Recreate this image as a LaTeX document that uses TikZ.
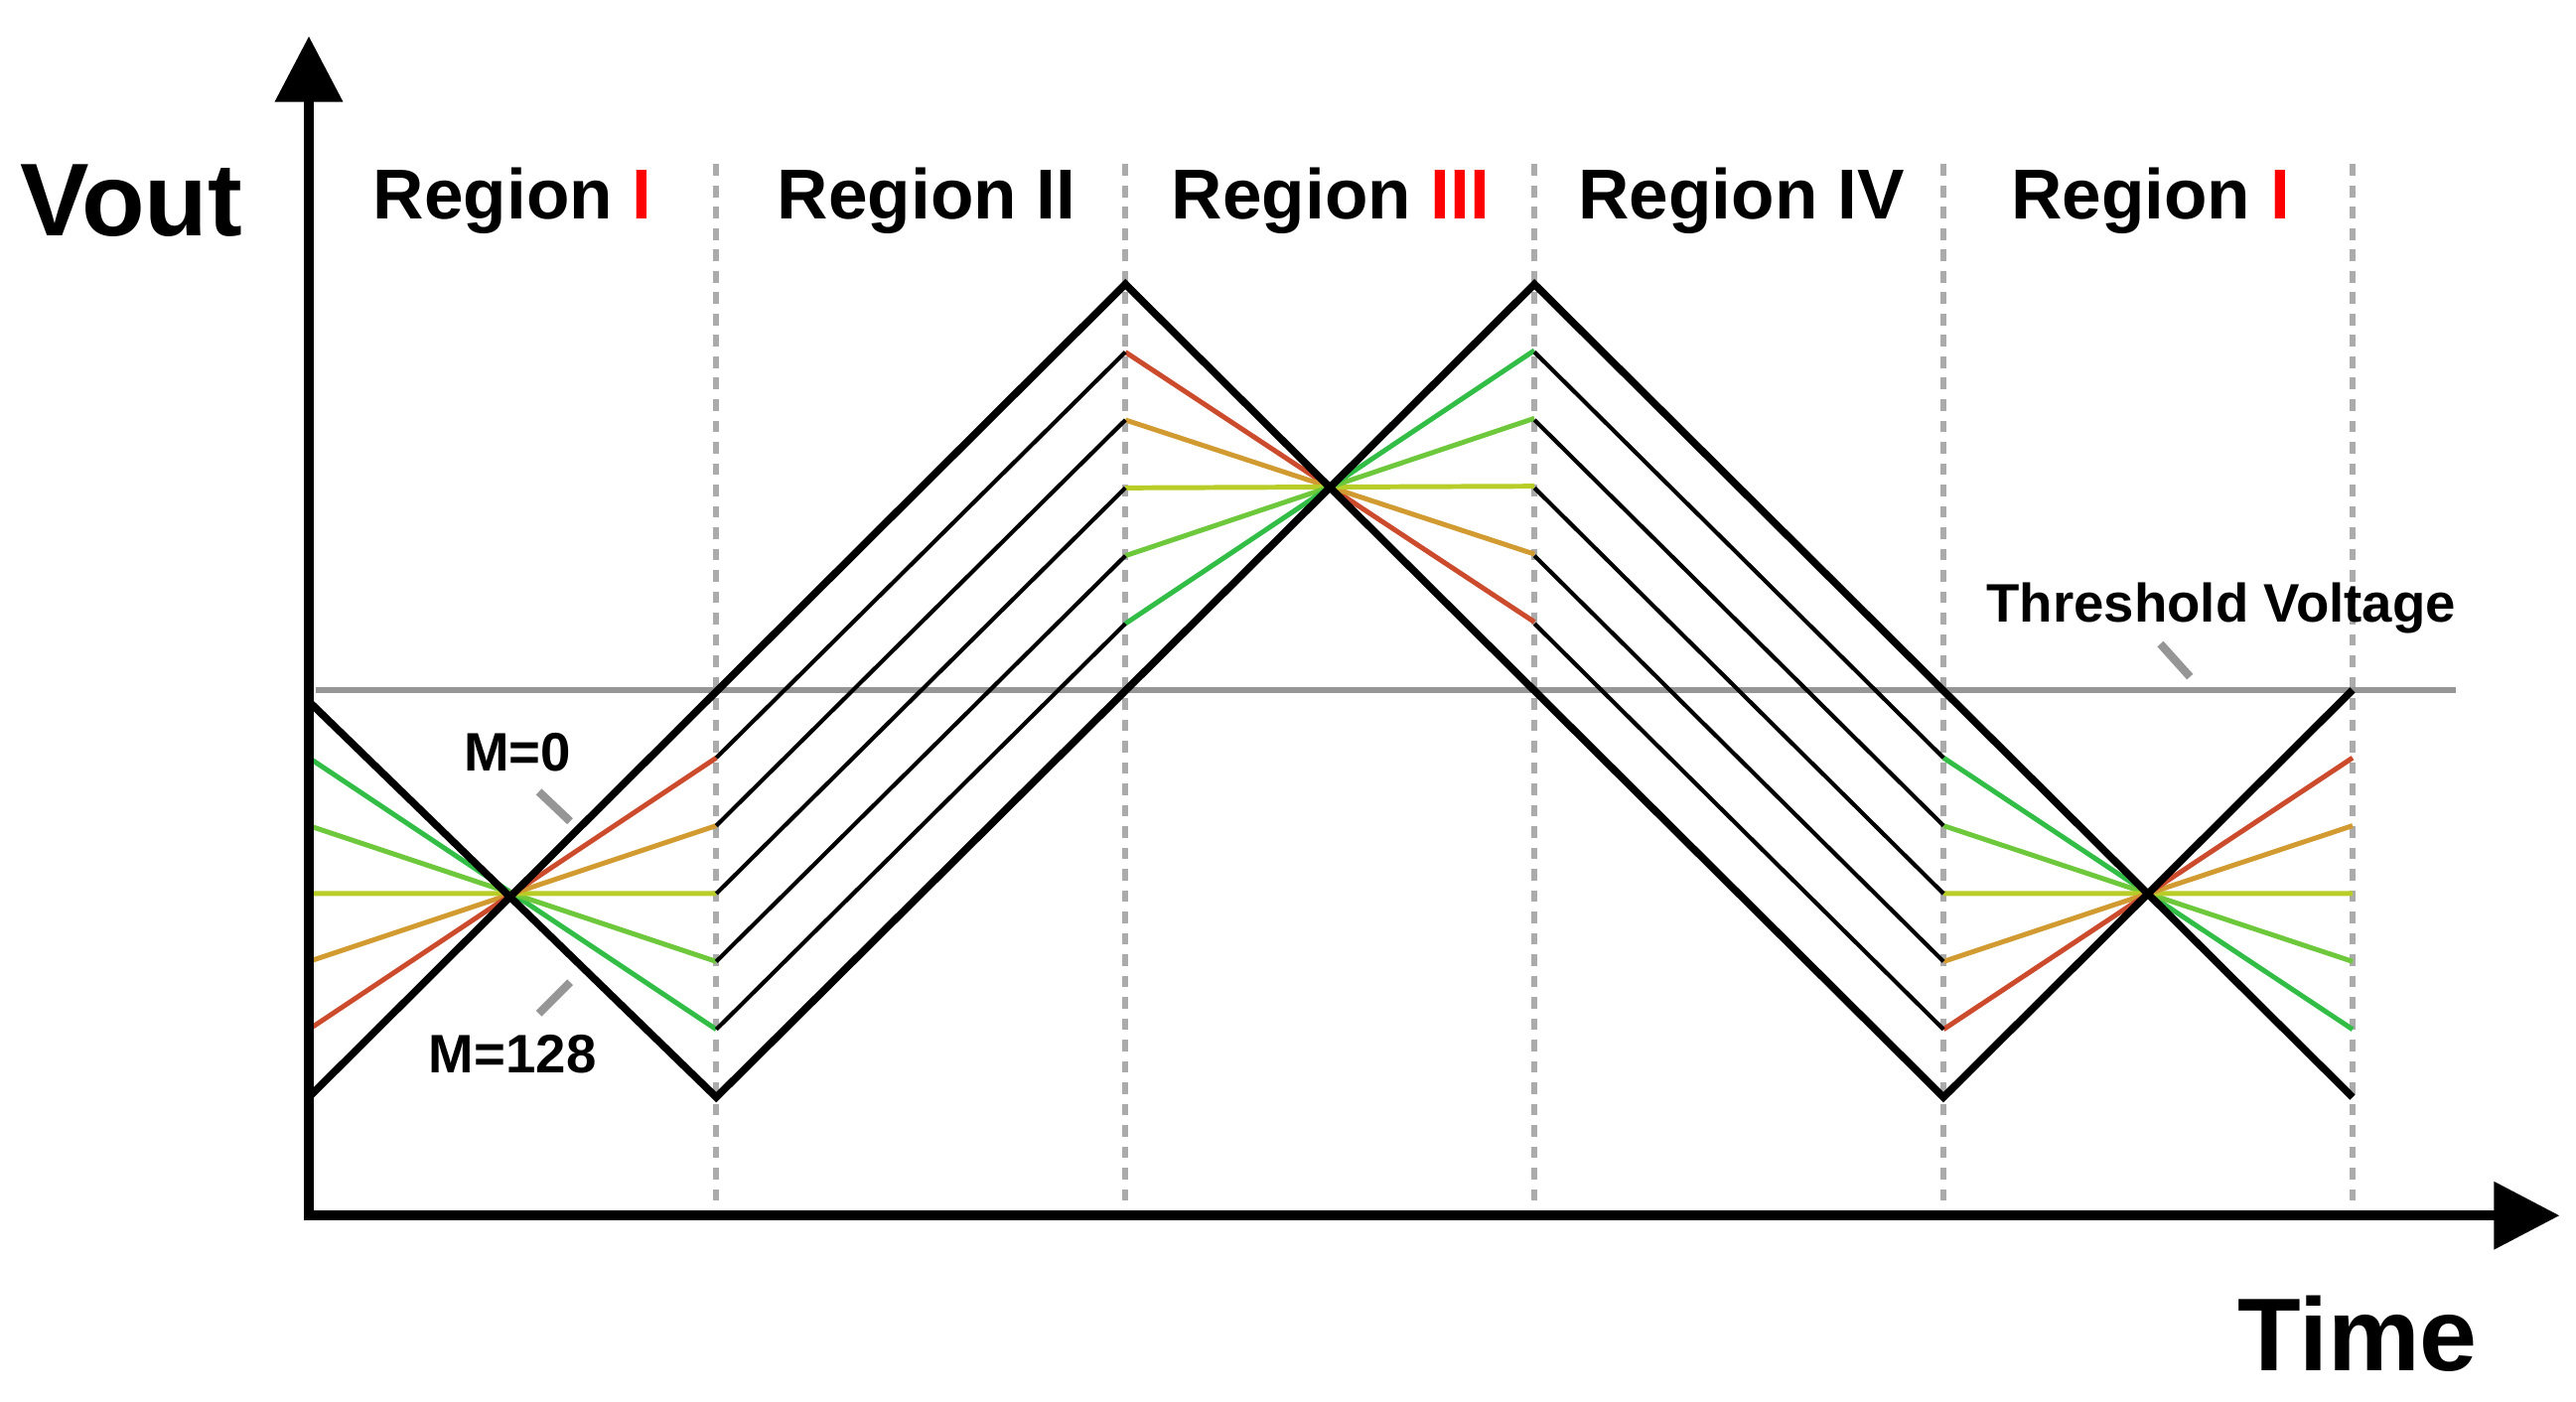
\documentclass[tikz,border=0pt]{standalone}
\usepackage{fontspec}
\setmainfont{Liberation Sans}
\usetikzlibrary{arrows.meta}
\definecolor{cR}{RGB}{205,75,45}
\definecolor{cO}{RGB}{210,155,50}
\definecolor{cY}{RGB}{185,205,40}
\definecolor{cG}{RGB}{110,200,60}
\definecolor{cGG}{RGB}{50,190,70}
\definecolor{gr}{RGB}{150,150,150}
\begin{document}
\begin{tikzpicture}[x=1pt,y=-1pt,
  thickb/.style={line width=4.5pt,black},
  thinb/.style={line width=2.5pt,black},
  col/.style={line width=3pt},
  sepline/.style={line width=3.5pt,gr!80,dash pattern=on 7pt off 6pt},
  lbl/.style={font=\bfseries\fontsize{43}{50}\selectfont},
  big/.style={font=\bfseries\fontsize{63}{70}\selectfont},
  mlbl/.style={font=\bfseries\fontsize{33}{38}\selectfont},
  lead/.style={line width=5pt,gr}]
\useasboundingbox (0,0) rectangle (1568,853);
\foreach \x in {436,685,934,1183,1432} \draw[sepline] (\x,100) -- (\x,740);
\draw[line width=4pt,gr] (192,420) -- (1495,420);
\pgfmathsetmacro{\d}{248/6}
\foreach \i/\c in {1/cGG,2/cG,3/cY,4/cO,5/cR}{
  \draw[col,\c] (188,{420+\i*\d}) -- (436,{668-\i*\d});
  \draw[col,\c] (1432,{420+(6-\i)*\d}) -- (1183,{668-(6-\i)*\d});
}
\foreach \i/\c in {1/cR,2/cO,3/cY,4/cG,5/cGG}{
  \draw[col,\c] (685,{173+\i*\d}) -- (934,{420-\i*\d});
}
\foreach \i in {1,...,5}{
  \draw[thinb] (436,{420+\i*\d}) -- (685,{173+\i*\d});
  \draw[thinb] (934,{173+\i*\d}) -- (1183,{420+\i*\d});
}
\draw[thickb,line join=miter] (188,668) -- (685,173) -- (1183,668) -- (1432,420);
\draw[thickb,line join=miter] (188,427) -- (436,668) -- (934,173) -- (1432,668);
\draw[line width=6pt,-{Triangle[length=40pt,width=40pt]}] (188,743) -- (188,22);
\draw[line width=6pt,-{Triangle[length=40pt,width=40pt]}] (185,740) -- (1558,740);
\node[big] (vout) at (80,122) {Vout};
\node[big] (time) at (1435,812) {Time};
\node[lbl] (r1) at (312,122) {Region \textcolor{red}{I}};
\node[lbl] (r2) at (564,122) {Region II};
\node[lbl] (r3) at (810,122) {Region \textcolor{red}{III}};
\node[lbl] (r4) at (1060,122) {Region IV};
\node[lbl] (r5) at (1309,122) {Region \textcolor{red}{I}};
\node[mlbl] (m0) at (315,458) {M=0};
\node[mlbl] (m128) at (312,642) {M=128};
\node[mlbl] (thr) at (1352,370) {Threshold Voltage};
\draw[lead] (328,482) -- (347,500);
\draw[lead] (347,598) -- (328,617);
\draw[lead] (1315,392) -- (1333,412);
\end{tikzpicture}
\end{document}
